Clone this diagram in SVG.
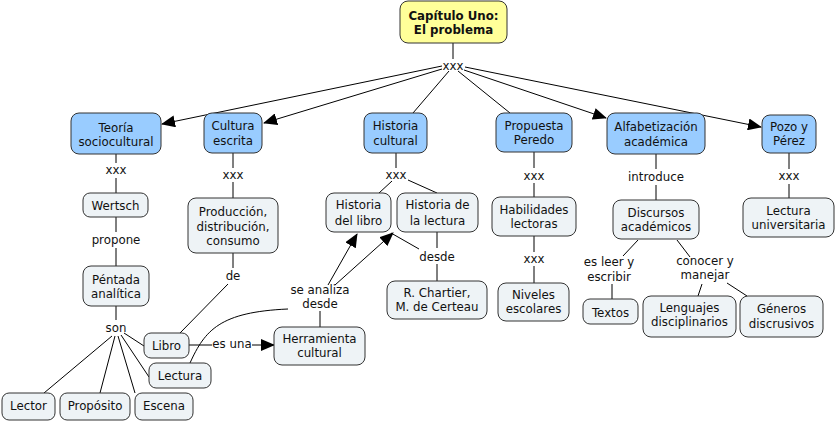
<svg xmlns="http://www.w3.org/2000/svg" width="836" height="423" viewBox="0 0 836 423">
<style>
text{font-family:"DejaVu Sans","Liberation Sans",sans-serif;font-size:11.8px;fill:#111;text-anchor:middle}
.b{font-weight:bold}
.nd rect{stroke:#333;stroke-width:1}
.root{fill:#FFFF99}
.blue{fill:#99CCFF}
.lite{fill:#EEF3F6}
#connectors line,#connectors path{stroke:#000;stroke-width:1;fill:none}
.ar{marker-end:url(#arr)}
</style>
<defs>
<marker id="arr" markerUnits="userSpaceOnUse" markerWidth="14" markerHeight="12" refX="13" refY="6" orient="auto" viewBox="0 0 14 12">
<path d="M0,0 L14,6 L0,12 z" fill="#000"/>
</marker>
</defs>
<g id="connectors">
<line x1="453" y1="43" x2="453" y2="59"/>
<line x1="442" y1="66" x2="162" y2="124" class="ar"/>
<line x1="442" y1="69" x2="264" y2="123" class="ar"/>
<line x1="449" y1="71" x2="413" y2="113"/>
<line x1="458" y1="71" x2="510" y2="113"/>
<line x1="464" y1="70" x2="606" y2="118" class="ar"/>
<line x1="465" y1="67" x2="761" y2="127" class="ar"/>
<line x1="116" y1="154" x2="116" y2="163"/>
<line x1="116" y1="178" x2="116" y2="193"/>
<line x1="116" y1="217" x2="116" y2="232"/>
<line x1="116" y1="248" x2="116" y2="266"/>
<line x1="116" y1="306" x2="116" y2="320"/>
<line x1="112" y1="336" x2="44" y2="393"/>
<line x1="115" y1="336" x2="100" y2="393"/>
<line x1="118" y1="336" x2="135" y2="393"/>
<line x1="121" y1="335" x2="149" y2="377"/>
<line x1="124" y1="333" x2="144" y2="346"/>
<line x1="189" y1="345" x2="212" y2="345"/>
<line x1="252" y1="345" x2="274" y2="345" class="ar"/>
<line x1="233" y1="153" x2="233" y2="168"/>
<line x1="233" y1="182" x2="233" y2="198"/>
<line x1="233" y1="253" x2="233" y2="268"/>
<line x1="228" y1="284" x2="180" y2="333"/>
<line x1="320" y1="311" x2="320" y2="327"/>
<path d="M190,363 C205,330 220,312 288,309"/>
<line x1="328" y1="285" x2="357" y2="234" class="ar"/>
<line x1="335" y1="285" x2="393" y2="233" class="ar"/>
<line x1="396" y1="153" x2="396" y2="168"/>
<line x1="392" y1="181" x2="379" y2="193"/>
<line x1="408" y1="180" x2="437" y2="193"/>
<line x1="437" y1="232" x2="437" y2="248"/>
<line x1="437" y1="264" x2="437" y2="281"/>
<line x1="391" y1="233" x2="419" y2="249"/>
<line x1="534" y1="152" x2="534" y2="168"/>
<line x1="534" y1="183" x2="534" y2="197"/>
<line x1="534" y1="236" x2="534" y2="252"/>
<line x1="534" y1="266" x2="534" y2="283"/>
<line x1="656" y1="154" x2="656" y2="169"/>
<line x1="656" y1="185" x2="656" y2="200"/>
<line x1="638" y1="240" x2="623" y2="256"/>
<line x1="612" y1="284" x2="612" y2="299"/>
<line x1="677" y1="240" x2="690" y2="257"/>
<line x1="702" y1="284" x2="698" y2="296"/>
<line x1="727" y1="283" x2="747" y2="296"/>
<line x1="789" y1="153" x2="789" y2="169"/>
<line x1="789" y1="184" x2="789" y2="198"/>
</g>
<g id="labels">
<text x="453" y="70">xxx</text>
<text x="116" y="174">xxx</text>
<text x="116" y="244">propone</text>
<text x="116" y="332">son</text>
<text x="232" y="348">es una</text>
<text x="233" y="179">xxx</text>
<text x="233" y="280">de</text>
<text x="320" y="294">se analiza</text>
<text x="320" y="308">desde</text>
<text x="396" y="179">xxx</text>
<text x="437" y="261">desde</text>
<text x="534" y="180">xxx</text>
<text x="534" y="263">xxx</text>
<text x="656" y="181">introduce</text>
<text x="609" y="266">es leer y</text>
<text x="609" y="281">escribir</text>
<text x="705" y="265">conocer y</text>
<text x="705" y="279">manejar</text>
<text x="789" y="180">xxx</text>
</g>
<g class="nd">
<g id="n-root"><rect class="root" x="400" y="1" width="107" height="42" rx="8"/><text class="b" x="453.5" y="19.5">Capítulo Uno:</text><text class="b" x="453.5" y="33.5">El problema</text></g>
<g id="n-teoria"><rect class="blue" x="71" y="113" width="90" height="41" rx="8"/><text x="116" y="132">Teoría</text><text x="116" y="146">sociocultural</text></g>
<g id="n-cultura"><rect class="blue" x="204" y="113" width="58" height="40" rx="8"/><text x="233" y="130">Cultura</text><text x="233" y="145">escrita</text></g>
<g id="n-historia"><rect class="blue" x="364" y="113" width="63" height="40" rx="8"/><text x="395.5" y="130">Historia</text><text x="395.5" y="145">cultural</text></g>
<g id="n-propuesta"><rect class="blue" x="496" y="113" width="76" height="39" rx="8"/><text x="534" y="130">Propuesta</text><text x="534" y="144">Peredo</text></g>
<g id="n-alfab"><rect class="blue" x="607" y="113" width="98" height="41" rx="8"/><text x="656" y="131">Alfabetización</text><text x="656" y="146">académica</text></g>
<g id="n-pozo"><rect class="blue" x="762" y="115" width="54" height="38" rx="8"/><text x="789" y="131">Pozo y</text><text x="789" y="145">Pérez</text></g>
<g id="n-wertsch"><rect class="lite" x="83" y="193" width="65" height="24" rx="7"/><text x="115.5" y="210">Wertsch</text></g>
<g id="n-pentada"><rect class="lite" x="83" y="266" width="66" height="40" rx="8"/><text x="116" y="284">Péntada</text><text x="116" y="298">analítica</text></g>
<g id="n-lector"><rect class="lite" x="2" y="393" width="53" height="27" rx="7"/><text x="28.5" y="410">Lector</text></g>
<g id="n-proposito"><rect class="lite" x="60" y="393" width="70" height="27" rx="7"/><text x="95" y="410">Propósito</text></g>
<g id="n-escena"><rect class="lite" x="135" y="393" width="58" height="27" rx="7"/><text x="164" y="410">Escena</text></g>
<g id="n-libro"><rect class="lite" x="144" y="333" width="45" height="25" rx="7"/><text x="166.5" y="350">Libro</text></g>
<g id="n-lectura"><rect class="lite" x="149" y="363" width="62" height="25" rx="7"/><text x="180" y="380">Lectura</text></g>
<g id="n-herramienta"><rect class="lite" x="274" y="327" width="91" height="38" rx="8"/><text x="319.5" y="343">Herramienta</text><text x="319.5" y="357">cultural</text></g>
<g id="n-produccion"><rect class="lite" x="188" y="198" width="90" height="55" rx="8"/><text x="233" y="216">Producción,</text><text x="233" y="231">distribución,</text><text x="233" y="245">consumo</text></g>
<g id="n-hlibro"><rect class="lite" x="326" y="193" width="65" height="39" rx="8"/><text x="358.5" y="209">Historia</text><text x="358.5" y="225">del libro</text></g>
<g id="n-hlectura"><rect class="lite" x="397" y="193" width="81" height="39" rx="8"/><text x="437.5" y="209">Historia de</text><text x="437.5" y="225">la lectura</text></g>
<g id="n-chartier"><rect class="lite" x="387" y="281" width="100" height="38" rx="8"/><text x="437" y="297">R. Chartier,</text><text x="437" y="311">M. de Certeau</text></g>
<g id="n-habilidades"><rect class="lite" x="492" y="197" width="84" height="39" rx="8"/><text x="534" y="214">Habilidades</text><text x="534" y="228">lectoras</text></g>
<g id="n-niveles"><rect class="lite" x="498" y="283" width="71" height="38" rx="8"/><text x="533.5" y="299">Niveles</text><text x="533.5" y="313">escolares</text></g>
<g id="n-discursos"><rect class="lite" x="613" y="200" width="86" height="39" rx="8"/><text x="656" y="217">Discursos</text><text x="656" y="231">académicos</text></g>
<g id="n-textos"><rect class="lite" x="583" y="299" width="55" height="25" rx="7"/><text x="610.5" y="317">Textos</text></g>
<g id="n-lenguajes"><rect class="lite" x="643" y="296" width="93" height="41" rx="8"/><text x="689.5" y="312">Lenguajes</text><text x="689.5" y="326">disciplinarios</text></g>
<g id="n-generos"><rect class="lite" x="740" y="296" width="83" height="41" rx="8"/><text x="781.5" y="313">Géneros</text><text x="781.5" y="328">discrusivos</text></g>
<g id="n-lecturauniv"><rect class="lite" x="743" y="198" width="91" height="39" rx="8"/><text x="788.5" y="215">Lectura</text><text x="788.5" y="229">universitaria</text></g>
</g>
</svg>
